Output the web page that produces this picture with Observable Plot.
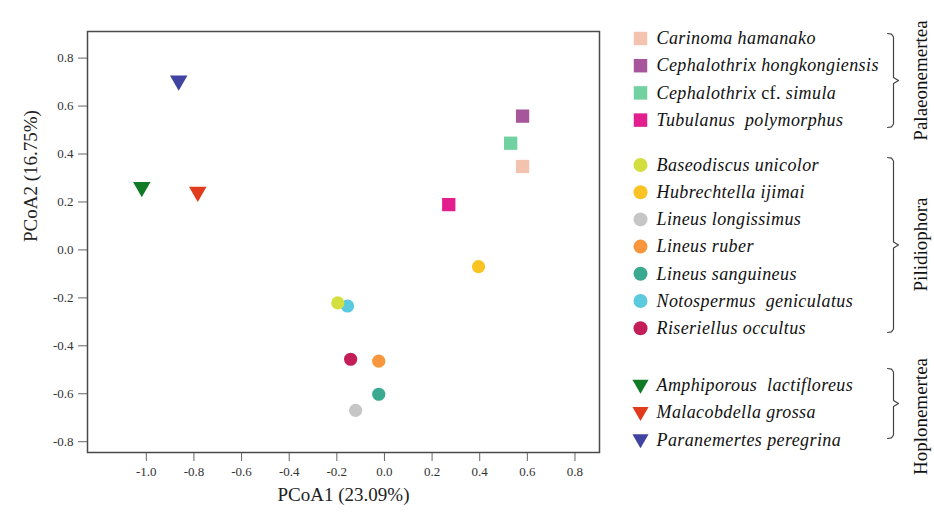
<!DOCTYPE html>
<html><head><meta charset="utf-8">
<script src="https://cdn.jsdelivr.net/npm/d3@7"></script>
<script src="https://cdn.jsdelivr.net/npm/@observablehq/plot@0.6"></script>
<style>
body{margin:0;background:#fff;}
#wrap{position:relative;width:934px;height:513px;overflow:hidden;}
#main{position:absolute;left:0;top:0;}
#legend{position:absolute;left:610px;top:0;}
.leg text{white-space:pre;}
</style></head><body><div id="wrap"><div id="main"></div><div id="legend"></div></div>
<script>
// ---- data ----
const species = [
  "Carinoma hamanako", "Cephalothrix hongkongiensis", "Cephalothrix cf. simula", "Tubulanus  polymorphus",
  "Baseodiscus unicolor", "Hubrechtella ijimai", "Lineus longissimus", "Lineus ruber",
  "Lineus sanguineus", "Notospermus  geniculatus", "Riseriellus occultus",
  "Amphiporous  lactifloreus", "Malacobdella grossa", "Paranemertes peregrina"
];
const groupOf = [0,0,0,0, 1,1,1,1,1,1,1, 2,2,2];
const groups = ["Palaeonemertea", "Pilidiophora", "Hoplonemertea"];
const pcoa1 = [0.580, 0.580, 0.530, 0.270, -0.196, 0.395, -0.121, -0.024, -0.024, -0.155, -0.142, -1.019, -0.784, -0.864];
const pcoa2 = [0.348, 0.558, 0.445, 0.189, -0.221, -0.070, -0.669, -0.464, -0.602, -0.234, -0.456, 0.262, 0.242, 0.706];
const colors = ["#F4C3B0", "#A8569C", "#72D1A1", "#E21F8C", "#D2DF3E", "#F8C323", "#C6C6C6", "#F7963D",
  "#3AA98F", "#5BC9DE", "#C41E59", "#117A26", "#E13A1C", "#4043A0"];
const xTicks = [-1.0, -0.8, -0.6, -0.4, -0.2, 0.0, 0.2, 0.4, 0.6, 0.8];
const yTicks = [-0.8, -0.6, -0.4, -0.2, 0.0, 0.2, 0.4, 0.6, 0.8];
const xLabel = "PCoA1 (23.09%)";
const yLabel = "PCoA2 (16.75%)";

// ---- layout (styles) ----
const shapes = ["square", "circle", "triangle"];
const markR = [7.5, 6.6, 6.5];
const legendR = [7.6, 7.0, 6.0];
const font = "'Liberation Serif', 'DejaVu Serif', serif";
const rowStep = 27.2;
const groupTop = [38, 164.5, 385];
const bracketSpan = [[33, 127], [157, 332], [368, 438]];
const groupLabelY = [80, 244, 416];

const rows = species.map((name, i) => ({
  name, i, g: groupOf[i], x: pcoa1[i], y: pcoa2[i], color: colors[i],
  ly: groupTop[groupOf[i]] + (i - groupOf.indexOf(groupOf[i])) * rowStep
}));
const fmt = d => d.toFixed(1);

function shapeMarks(data, g, opts) {
  return Plot.dot(data.filter(d => d.g === g), {
    ...opts, symbol: shapes[g], fill: "color", stroke: "none",
    rotate: g === 2 ? 180 : 0
  });
}

// draw order: Baseodiscus above Notospermus
const drawRows = rows.slice().reverse();

const main = Plot.plot({
  width: 610, height: 513,
  marginLeft: 87, marginTop: 31, marginRight: 11, marginBottom: 61,
  x: {domain: [-1.247, 0.903]},
  y: {domain: [-0.845, 0.911]},
  color: {type: "identity"},
  style: {fontFamily: font, background: "white", color: "#333"},
  marks: [
    Plot.axisX(xTicks, {tickSize: 9, tickPadding: 5, fontSize: 13, fontFamily: font, tickFormat: fmt, label: null, stroke: "#666", fill: "#333"}),
    Plot.axisY(yTicks, {tickSize: 9, tickPadding: 5, fontSize: 13, fontFamily: font, tickFormat: fmt, label: null, stroke: "#666", fill: "#333"}),
    Plot.frame({stroke: "#4a4a4a", strokeWidth: 1.5}),
    shapeMarks(drawRows, 0, {x: "x", y: "y", r: markR[0]}),
    shapeMarks(drawRows, 1, {x: "x", y: "y", r: markR[1]}),
    shapeMarks(drawRows, 2, {x: "x", y: "y", r: markR[2]}),
    Plot.text([xLabel], {text: d => d, frameAnchor: "bottom", dy: 48, fontSize: 19, fill: "#222"}),
    Plot.text([yLabel], {text: d => d, frameAnchor: "left", dx: -57, rotate: -90, fontSize: 19, fill: "#222"})
  ]
});
document.getElementById("main").appendChild(main);

// ---- legend ----
const bx0 = 277, bx1 = 283, bx2 = 288;
const bracketPts = bracketSpan.flatMap(([t, b], g) => {
  const m = (t + b) / 2;
  return [[bx0, t], [bx0 + 4, t + 0.6], [bx1, t + 3.5], [bx1, m - 3], [bx2, m], [bx1, m + 3], [bx1, b - 3.5], [bx0 + 4, b - 0.6], [bx0, b]]
    .map(([x, y]) => ({x, y, g}));
});

const legend = Plot.plot({
  width: 324, height: 513, margin: 0,
  x: {type: "identity", axis: null}, y: {type: "identity", axis: null},
  color: {type: "identity"},
  style: {fontFamily: font, background: "white"},
  className: "leg",
  marks: [
    shapeMarks(rows, 0, {x: () => 30, y: "ly", r: legendR[0]}),
    shapeMarks(rows, 1, {x: () => 30, y: "ly", r: legendR[1]}),
    shapeMarks(rows, 2, {x: () => 30, y: "ly", r: legendR[2], dy: -1}),
    Plot.text(rows, {x: () => 46, y: "ly", text: "name", textAnchor: "start", fontSize: 18, fontStyle: "italic", fill: "#111"}),
    Plot.line(bracketPts, {x: "x", y: "y", z: "g", stroke: "#444", strokeWidth: 1.2}),
    Plot.text(groups, {x: () => 310, y: (d, i) => groupLabelY[i], text: d => d, rotate: -90, fontSize: 19, fill: "#111"})
  ]
});
document.getElementById("legend").appendChild(legend);
legend.querySelectorAll("text").forEach(t => {
  if (t.textContent === "Cephalothrix cf. simula") {
    t.innerHTML = 'Cephalothrix <tspan font-style="normal">cf.</tspan> simula';
  }
  if (t.getAttribute("font-style") === "italic" || t.closest("[font-style=italic]")) t.style.letterSpacing = "0.4px";
});
</script></body></html>
